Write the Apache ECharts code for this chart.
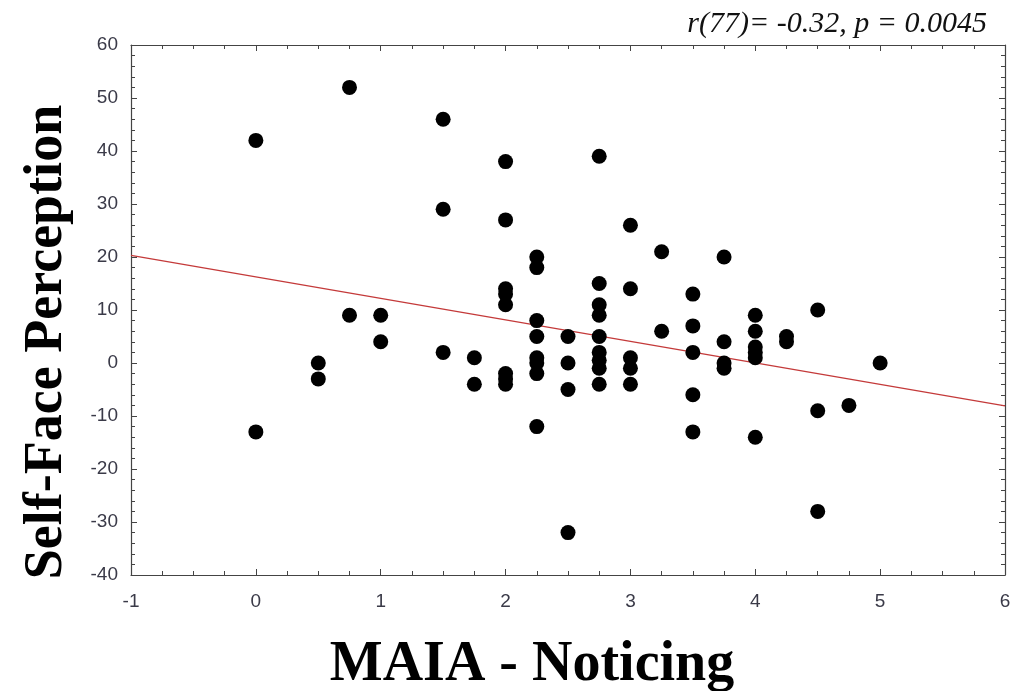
<!DOCTYPE html>
<html>
<head>
<meta charset="utf-8">
<script src="https://cdn.jsdelivr.net/npm/echarts@6/dist/echarts.min.js"></script>
<style>
  html, body { margin: 0; padding: 0; background: #fff; }
  #chart { width: 1030px; height: 691px; }
</style>
</head>
<body>
<div id="chart"></div>
<script>
// MAIA - Noticing score for each participant
var noticing = [
  0, 0,
  0.5, 0.5,
  0.75, 0.75,
  1, 1,
  1.5, 1.5, 1.5,
  1.75, 1.75,
  2, 2, 2, 2, 2, 2, 2, 2,
  2.25, 2.25, 2.25, 2.25, 2.25, 2.25, 2.25, 2.25,
  2.5, 2.5, 2.5, 2.5,
  2.75, 2.75, 2.75, 2.75, 2.75, 2.75, 2.75, 2.75, 2.75,
  3, 3, 3, 3, 3,
  3.25, 3.25,
  3.5, 3.5, 3.5, 3.5, 3.5,
  3.75, 3.75, 3.75, 3.75,
  4, 4, 4, 4, 4, 4,
  4.25, 4.25,
  4.5, 4.5, 4.5,
  4.75,
  5
];
// self-face perception score, same order
var selfFace = [
  42, -13,
  0, -3,
  52, 9,
  9, 4,
  46, 29, 2,
  1, -4,
  38, 27, 14, 13, 11, -2, -3, -4,
  20, 18, 8, 5, 1, 0, -2, -12,
  5, 0, -5, -32,
  39, 15, 11, 9, 5, 2, 0.5, -1, -4,
  26, 14, 1, -1, -4,
  21, 6,
  13, 7, 2, -6, -13,
  20, 4, 0, -1,
  9, 6, 3, 2, 1, -14,
  5, 4,
  10, -9, -28,
  -8,
  0
];
// fitted regression line end points
var fitX = [-1, 6];
var fitY = [20.3, -8.1];

var points = noticing.map(function (x, i) { return [x, selfFace[i]]; });
var fitLine = fitX.map(function (x, i) { return [x, fitY[i]]; });

var myChart = echarts.init(document.getElementById('chart'));

var axisLine = { show: true, onZero: false, lineStyle: { color: '#444', width: 1.2 } };
var tickStyle = { color: '#444', width: 1 };
var labelStyle = { color: '#3a3a48', fontFamily: 'Liberation Sans Narrow, Liberation Sans', fontSize: 19 };

var option = {
    animation: false,
    backgroundColor: '#fff',
    grid: { left: 131, right: 25, top: 45, bottom: 116, outerBoundsMode: 'none', containLabel: false },
    title: [
        {
            text: 'r(77)= -0.32, p = 0.0045',
            right: 38, top: 4,
            textStyle: { fontFamily: 'Liberation Serif', fontStyle: 'italic', fontWeight: 'normal', fontSize: 30, color: '#111' }
        }
    ],
    xAxis: [
        {
            type: 'value', min: -1, max: 6, interval: 1,
            name: 'MAIA - Noticing', nameLocation: 'middle', nameGap: 63,
            nameTextStyle: { fontFamily: 'Liberation Serif', fontWeight: 'bold', fontSize: 56, color: '#000', padding: [0, 72, 0, 0] },
            axisLine: axisLine,
            axisTick: { inside: true, length: 6, lineStyle: tickStyle },
            minorTick: { show: true, splitNumber: 4, length: 4, lineStyle: tickStyle },
            axisLabel: Object.assign({ margin: 17 }, labelStyle),
            splitLine: { show: false }
        },
        {
            type: 'value', position: 'top', min: -1, max: 6, interval: 1,
            axisLine: axisLine,
            axisTick: { inside: true, length: 6, lineStyle: tickStyle },
            minorTick: { show: true, splitNumber: 4, length: 4, lineStyle: tickStyle },
            axisLabel: { show: false },
            splitLine: { show: false }
        }
    ],
    yAxis: [
        {
            type: 'value', min: -40, max: 60, interval: 10,
            name: 'Self-Face Perception', nameLocation: 'middle', nameGap: 57,
            nameTextStyle: { fontFamily: 'Liberation Serif', fontWeight: 'bold', fontSize: 54, color: '#000', padding: [0, 64, 0, 0] },
            axisLine: axisLine,
            axisTick: { inside: true, length: 6, lineStyle: tickStyle },
            minorTick: { show: true, splitNumber: 5, length: 4, lineStyle: tickStyle },
            axisLabel: Object.assign({ margin: 13 }, labelStyle),
            splitLine: { show: false }
        },
        {
            type: 'value', position: 'right', min: -40, max: 60, interval: 10,
            axisLine: axisLine,
            axisTick: { inside: true, length: 6, lineStyle: tickStyle },
            minorTick: { show: true, splitNumber: 5, length: 4, lineStyle: tickStyle },
            axisLabel: { show: false },
            splitLine: { show: false }
        }
    ],
    series: [
        {
            name: 'fit',
            type: 'line',
            data: fitLine,
            symbol: 'none',
            lineStyle: { color: '#c43a3a', width: 1.3 },
            z: 1
        },
        {
            name: 'participants',
            type: 'scatter',
            data: points,
            symbolSize: 15,
            itemStyle: { color: '#000', opacity: 1 },
            z: 2
        }
    ]
};

myChart.setOption(option);
</script>
</body>
</html>
